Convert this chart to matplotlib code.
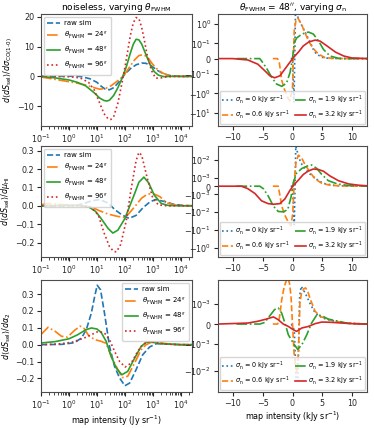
import numpy as np
import matplotlib
matplotlib.use("Agg")
import matplotlib.pyplot as plt
from matplotlib.ticker import NullLocator

# ---------------- data: left column (log10 of map intensity in Jy/sr) ----------------
# top-left: d<dS_sel>/d sigma_CO
tl_raw_lx = [-1.0, -0.5, 0.0, 0.3, 0.5, 0.75, 1.0, 1.15, 1.3, 1.45, 1.6, 1.75, 1.9, 2.05, 2.2, 2.4, 2.6, 2.75, 2.9, 3.05, 3.2, 3.4, 3.6, 3.8, 4.0, 4.5]
tl_raw_y = [0.0, 0.0, 0.05, 0.1, -0.2, -0.8, -2.0, -3.3, -4.3, -4.5, -3.8, -2.3, -0.4, 1.2, 2.6, 3.9, 4.5, 4.4, 3.8, 2.8, 1.8, 0.8, 0.3, 0.1, 0.0, 0.0]
tl_24_lx = [-1.0, -0.5, 0.0, 0.3, 0.6, 0.9, 1.1, 1.3, 1.5, 1.7, 1.9, 2.05, 2.2, 2.35, 2.5, 2.65, 2.8, 3.0, 3.2, 3.4, 3.6, 3.8, 4.0, 4.5]
tl_24_y = [-0.2, -1.0, -1.8, -2.3, -2.9, -3.8, -4.3, -4.1, -3.2, -1.8, -0.3, 1.5, 3.6, 5.6, 7.0, 7.3, 6.6, 4.0, 2.0, 0.9, 0.3, 0.1, 0.0, 0.0]
tl_48_lx = [-1.0, -0.5, 0.0, 0.3, 0.6, 0.9, 1.1, 1.25, 1.35, 1.45, 1.6, 1.75, 1.9, 2.05, 2.2, 2.3, 2.4, 2.5, 2.6, 2.75, 2.9, 3.05, 3.2, 3.4, 3.6, 4.0, 4.5]
tl_48_y = [0.0, -0.5, -1.2, -2.0, -3.2, -5.5, -7.3, -8.1, -8.3, -8.0, -6.4, -3.8, -0.6, 3.2, 8.0, 10.8, 12.5, 12.3, 10.9, 7.4, 4.0, 1.6, 0.4, -0.1, 0.0, 0.0, 0.0]
tl_96_lx = [-1.0, -0.5, 0.0, 0.4, 0.7, 0.9, 1.1, 1.25, 1.4, 1.5, 1.6, 1.75, 1.9, 2.0, 2.1, 2.2, 2.3, 2.4, 2.5, 2.6, 2.7, 2.8, 2.95, 3.1, 3.3, 3.5, 4.0, 4.5]
tl_96_y = [0.0, 0.0, -0.1, -0.5, -2.0, -4.5, -9.0, -12.5, -14.3, -14.5, -13.5, -9.0, -2.0, 3.0, 8.5, 14.0, 18.0, 19.8, 19.5, 16.5, 12.0, 7.0, 2.0, -0.6, -0.5, -0.1, 0.0, 0.0]

# middle-left: d<dS_sel>/d mu_HI
ml_raw_lx = [-1.0, 0.0, 0.3, 0.55, 0.8, 1.1, 1.4, 1.65, 1.9, 2.15, 2.4, 2.65, 2.9, 3.1, 3.4, 3.75, 4.1, 4.5]
ml_raw_y = [0.0, 0.0, 0.004, 0.013, 0.027, 0.034, 0.015, -0.022, -0.05, -0.068, -0.052, -0.01, 0.022, 0.034, 0.024, 0.008, 0.002, 0.0]
ml_24_lx = [-1.0, -0.75, -0.5, -0.25, 0.0, 0.4, 0.8, 1.05, 1.4, 1.7, 1.95, 2.1, 2.35, 2.6, 2.8, 3.0, 3.25, 3.5, 3.8, 4.1, 4.5]
ml_24_y = [0.006, 0.012, 0.01, 0.007, 0.005, 0.002, -0.005, -0.024, -0.045, -0.056, -0.063, -0.05, -0.005, 0.042, 0.063, 0.067, 0.05, 0.016, 0.004, 0.001, 0.0]
ml_48_lx = [-1.0, 0.0, 0.4, 0.7, 0.95, 1.15, 1.4, 1.57, 1.75, 2.0, 2.15, 2.35, 2.5, 2.68, 2.85, 3.05, 3.3, 3.55, 4.0, 4.5]
ml_48_y = [0.0, 0.003, 0.002, -0.005, -0.03, -0.069, -0.123, -0.148, -0.132, -0.069, -0.01, 0.067, 0.128, 0.156, 0.125, 0.058, 0.013, 0.002, 0.0, 0.0]
ml_96_lx = [-1.0, 0.0, 0.5, 0.8, 1.05, 1.25, 1.45, 1.6, 1.7, 1.85, 2.05, 2.2, 2.4, 2.5, 2.6, 2.8, 3.0, 3.2, 3.5, 4.0, 4.5]
ml_96_y = [0.0, 0.0, -0.002, -0.009, -0.05, -0.145, -0.222, -0.248, -0.25, -0.21, -0.08, 0.07, 0.245, 0.29, 0.275, 0.15, 0.04, 0.005, 0.0, 0.0, 0.0]

# bottom-left: d<dS_sel>/d alpha_2
bl_raw_lx = [-1.0, -0.25, 0.2, 0.45, 0.62, 0.8, 0.92, 1.01, 1.13, 1.27, 1.45, 1.63, 1.81, 2.0, 2.17, 2.4, 2.64, 2.88, 3.12, 3.5, 4.0, 4.5]
bl_raw_y = [0.0, 0.002, 0.012, 0.04, 0.089, 0.187, 0.286, 0.352, 0.325, 0.187, -0.01, -0.128, -0.197, -0.243, -0.227, -0.148, -0.059, -0.014, 0.006, 0.004, 0.0, 0.0]
bl_24_lx = [-1.0, -0.75, -0.5, -0.27, -0.05, 0.2, 0.4, 0.55, 0.7, 0.92, 1.15, 1.33, 1.51, 1.69, 1.9, 2.1, 2.35, 2.58, 2.76, 2.94, 3.2, 3.55, 4.0, 4.5]
bl_24_y = [0.06, 0.103, 0.08, 0.05, 0.045, 0.085, 0.11, 0.095, 0.055, 0.03, 0.02, 0.008, -0.069, -0.128, -0.195, -0.187, -0.108, -0.03, 0.0, 0.014, 0.013, 0.005, 0.0, 0.0]
bl_48_lx = [-1.0, -0.5, 0.0, 0.3, 0.6, 0.8, 1.0, 1.15, 1.33, 1.51, 1.69, 1.89, 2.1, 2.35, 2.58, 2.76, 2.94, 3.3, 4.0, 4.5]
bl_48_y = [0.01, 0.018, 0.035, 0.058, 0.088, 0.099, 0.093, 0.073, 0.02, -0.069, -0.138, -0.178, -0.158, -0.079, -0.01, 0.014, 0.016, 0.006, 0.0, 0.0]
bl_96_lx = [-1.0, -0.4, 0.1, 0.55, 0.85, 1.05, 1.27, 1.45, 1.63, 1.81, 2.01, 2.23, 2.46, 2.64, 2.82, 3.06, 3.4, 4.0, 4.5]
bl_96_y = [0.0, 0.004, 0.014, 0.04, 0.063, 0.079, 0.069, 0.03, -0.039, -0.099, -0.132, -0.108, -0.039, 0.0, 0.018, 0.014, 0.004, 0.0, 0.0]

# ---------------- data: right column (map intensity in kJy/sr) ----------------
tr_s0_x = [-0.3, 0.0, 0.25, 0.5, 0.75, 1.0, 1.5, 2.0, 2.5, 3.0, 3.5, 4.0, 5.0, 6.0, 8.0, 10.0, 12.5]
tr_s0_y = [0, 0, -3.0, 4.0, 3.0, 1.8, 0.9, 0.45, 0.22, 0.11, 0.06, 0.03, 0.008, 0.002, 0.0, 0.0, 0.0]
tr_s06_x = [-3.3, -2.5, -2.2, -1.8, -1.3, -0.7, -0.4, 0.0, 0.3, 0.6, 0.9, 1.5, 2.1, 2.7, 3.5, 4.4, 5.5, 7.0, 9.0, 12.5]
tr_s06_y = [0, 0, -0.03, -0.22, -0.7, -1.9, -2.4, -0.5, 0.5, 1.6, 2.0, 0.95, 0.35, 0.13, 0.065, 0.028, 0.006, 0.001, 0, 0]
tr_s19_x = [-9.4, -5.5, -5.2, -4.4, -3.5, -2.7, -1.8, -1.0, -0.4, 0.0, 0.3, 0.7, 1.3, 2.1, 2.7, 3.5, 4.4, 5.2, 6.3, 7.7, 9.0, 12.5]
tr_s19_y = [0, 0, -0.015, -0.06, -0.15, -0.33, -0.44, -0.3, -0.09, 0.0, 0.11, 0.19, 0.26, 0.35, 0.38, 0.3, 0.13, 0.06, 0.017, 0.002, 0.0, 0.0]
tr_s32_x = [-12.5, -10, -7.5, -5.8, -4.65, -3.8, -3.0, -2.1, -1.3, -0.4, 0.15, 1.0, 1.8, 2.7, 3.8, 4.65, 5.8, 7.2, 8.6, 10.0, 12.5]
tr_s32_y = [0, 0, -0.009, -0.037, -0.08, -0.126, -0.16, -0.126, -0.07, -0.022, 0.0065, 0.043, 0.083, 0.117, 0.148, 0.13, 0.083, 0.043, 0.017, 0.004, 0.0]

mr_s0_x = [-0.3, 0.0, 0.3, 0.55, 0.8, 1.0, 1.3, 1.6, 2.1, 2.5, 3.0, 3.8, 4.5, 5.5, 7.0, 9.0, 12.5]
mr_s0_y = [0, 0, -0.05, 0.06, 0.03, 0.016, 0.009, 0.0056, 0.0033, 0.0024, 0.0016, 0.001, 0.0006, 0.0003, 0.0001, 0.00002, 0]
mr_s06_x = [-3.3, -2.4, -2.1, -1.8, -1.3, -0.7, -0.25, 0.05, 0.3, 0.6, 1.0, 1.55, 2.1, 3.0, 3.8, 4.9, 6.3, 8.0, 12.5]
mr_s06_y = [0, 0, -0.0012, -0.0046, -0.0145, -0.036, -0.058, -0.011, 0.0007, 0.008, 0.019, 0.013, 0.0056, 0.002, 0.00088, 0.00036, 0.00012, 0.00003, 0]
mr_s19_x = [-9.4, -5.5, -4.9, -4.1, -3.2, -2.4, -1.55, -0.8, -0.25, 0.14, 0.7, 1.55, 2.67, 3.2, 4.1, 4.9, 6.0, 7.5, 9.4, 12.5]
mr_s19_y = [0, 0, -0.0003, -0.0012, -0.0046, -0.0091, -0.0095, -0.0072, -0.00145, 0.00048, 0.0019, 0.0034, 0.005, 0.0054, 0.0034, 0.0016, 0.00068, 0.00028, 0.00008, 0]
mr_s32_x = [-12.5, -8.6, -7.5, -6.3, -5.2, -4.1, -3.2, -2.1, -1.27, -0.42, 0.14, 1.0, 1.83, 2.67, 3.5, 4.36, 5.2, 6.3, 7.7, 9.4, 11.1, 12.5]
mr_s32_y = [0, 0, -0.0003, -0.0009, -0.0023, -0.0033, -0.0036, -0.0033, -0.0018, -0.0005, 0.00008, 0.00076, 0.0016, 0.0025, 0.0032, 0.003, 0.0024, 0.0013, 0.00068, 0.00028, 0.00012, 0.00005]

br_s0_x = [-0.2, 0.3, 0.6, 0.9, 1.2, 1.45, 2.1, 3.0, 3.8, 5.0, 6.3, 8.3, 10.0, 12.5]
br_s0_y = [0, -0.0003, -0.02, -0.02, 0.002, 0.0047, 0.0027, 0.001, 0.00056, 0.00031, 0.00019, 0.00008, 0.00003, 0]
br_s06_x = [-3.3, -2.5, -2.2, -1.8, -1.4, -1.0, -0.75, -0.5, -0.25, 0.0, 0.25, 0.5, 0.75, 1.0, 1.25, 1.5, 1.9, 2.2, 2.6, 3.0, 3.8, 4.65, 5.8, 7.2, 9.0, 12.5]
br_s06_y = [0, 0, 0.0003, 0.0015, 0.0045, 0.008, 0.0095, 0.006, 0.002, 0.0, -0.002, -0.006, -0.012, -0.002, 0.0012, 0.0025, 0.0038, 0.0041, 0.0028, 0.0015, 0.00064, 0.00039, 0.00025, 0.00014, 0.00005, 0]
br_s19_x = [-9.4, -5.5, -4.65, -3.8, -3.0, -2.4, -1.83, -1.27, -0.7, 0.14, 0.87, 1.55, 2.4, 3.2, 4.1, 4.9, 6.0, 7.7, 9.4, 12.5]
br_s19_y = [0, 0, 0.00008, 0.00042, 0.00073, 0.00081, 0.00056, 0.00005, -0.00054, -0.00097, -0.0016, -0.0011, -0.00054, 0.00005, 0.00047, 0.00042, 0.00025, 0.00014, 0.00003, 0]
br_s32_x = [-12.5, -7.5, -5.8, -4.4, -3.2, -2.4, -1.55, -0.7, 0.14, 0.7, 1.55, 2.67, 3.8, 4.9, 6.3, 8.3, 10.6, 12.5]
br_s32_y = [0, 0.00005, 0.00014, 0.00025, 0.00036, 0.00022, 0.0, -0.00012, -0.00029, -0.00037, -0.0002, -0.00012, 0.00002, 0.0001, 0.00009, 0.00005, 0.00001, 0]

left_labels = ["raw sim", r"$\theta_{\rm FWHM}$ = 24$^{\prime\prime}$",
               r"$\theta_{\rm FWHM}$ = 48$^{\prime\prime}$", r"$\theta_{\rm FWHM}$ = 96$^{\prime\prime}$"]
right_labels = [r"$\sigma_{\rm n}$ = 0 kJy sr$^{-1}$", r"$\sigma_{\rm n}$ = 0.6 kJy sr$^{-1}$",
                r"$\sigma_{\rm n}$ = 1.9 kJy sr$^{-1}$", r"$\sigma_{\rm n}$ = 3.2 kJy sr$^{-1}$"]
left_ylabels = [r"$d\langle dS_{\rm sel}\rangle/d\sigma_{\rm CO(1\text{-}0)}$",
                r"$d\langle dS_{\rm sel}\rangle/d\mu_{\rm HI}$",
                r"$d\langle dS_{\rm sel}\rangle/d\alpha_2$"]

# ---------------- styling ----------------
colors = ["#1f77b4", "#ff7f0e", "#2ca02c", "#d62728"]
left_styles = ["--", "-.", "-", ":"]
right_styles = [":", "--", "-.", "-"]
plt.rcParams.update({"font.size": 5.8, "axes.edgecolor": "0.3", "xtick.color": "0.15",
                     "ytick.color": "0.15", "axes.linewidth": 0.8,
                     "xtick.major.size": 3, "ytick.major.size": 3,
                     "xtick.minor.size": 1.8, "xtick.labelsize": 5.8, "ytick.labelsize": 5.8})

fig = plt.figure(figsize=(3.74, 4.28), dpi=100)
W, H = 374.0, 428.0
rows = [(14, 126), (146, 257), (280, 392)]
lcol = (41, 192)
rcol = (218, 367)

def mkax(col, row):
    return fig.add_axes([col[0] / W, 1 - row[1] / H, (col[1] - col[0]) / W, (row[1] - row[0]) / H])

left_data = [
    [(tl_raw_lx, tl_raw_y), (tl_24_lx, tl_24_y), (tl_48_lx, tl_48_y), (tl_96_lx, tl_96_y)],
    [(ml_raw_lx, ml_raw_y), (ml_24_lx, ml_24_y), (ml_48_lx, ml_48_y), (ml_96_lx, ml_96_y)],
    [(bl_raw_lx, bl_raw_y), (bl_24_lx, bl_24_y), (bl_48_lx, bl_48_y), (bl_96_lx, bl_96_y)],
]
left_ylims = [(-16.7, 21.0), (-0.278, 0.325), (-0.28, 0.383)]
left_yticks = [[-10, 0, 10, 20], [-0.2, -0.1, 0.0, 0.1, 0.2, 0.3], [-0.2, -0.1, 0.0, 0.1, 0.2, 0.3]]
left_legloc = ["upper left", "upper left", "upper right"]

right_data = [
    [(tr_s0_x, tr_s0_y), (tr_s06_x, tr_s06_y), (tr_s19_x, tr_s19_y), (tr_s32_x, tr_s32_y)],
    [(mr_s0_x, mr_s0_y), (mr_s06_x, mr_s06_y), (mr_s19_x, mr_s19_y), (mr_s32_x, mr_s32_y)],
    [(br_s0_x, br_s0_y), (br_s06_x, br_s06_y), (br_s19_x, br_s19_y), (br_s32_x, br_s32_y)],
]
right_symlog = [(0.1, 0.70), (1e-3, 0.41), (1e-3, 0.67)]
right_ylims = [(-47, 3.2), (-3.2, 0.062), (-0.064, 0.0081)]
right_yticks = [[-10, -1, -0.1, 0, 0.1, 1], [-1, -0.1, -0.01, -0.001, 0, 0.001, 0.01], [-0.01, -0.001, 0, 0.001]]

for r in range(3):
    ax = mkax(lcol, rows[r])
    for k, (lx, yy) in enumerate(left_data[r]):
        ax.plot(10 ** np.asarray(lx), yy, ls=left_styles[k], color=colors[k], lw=1.2, label=left_labels[k])
    ax.set_xscale("log")
    ax.set_xlim(0.1, 10 ** 4.4)
    ax.set_ylim(*left_ylims[r])
    ax.set_yticks(left_yticks[r])
    ax.set_ylabel(left_ylabels[r], fontsize=5.8, labelpad=2)
    ax.tick_params(pad=2)
    ax.legend(loc=left_legloc[r], fontsize=5.0, handlelength=1.8, borderpad=0.5,
              labelspacing=0.55, handletextpad=0.6, borderaxespad=0.4)
    if r == 0:
        ax.set_title(r"noiseless, varying $\theta_{\rm FWHM}$", fontsize=6.5, pad=3)
    if r == 2:
        ax.set_xlabel(r"map intensity (Jy sr$^{-1}$)", fontsize=5.8, labelpad=1.5)

    ax2 = mkax(rcol, rows[r])
    for k, (xx, yy) in enumerate(right_data[r]):
        ax2.plot(xx, yy, ls=right_styles[k], color=colors[k], lw=1.2, label=right_labels[k])
    lt, ls_ = right_symlog[r]
    ax2.set_yscale("symlog", linthresh=lt, linscale=ls_)
    ax2.set_xlim(-12.5, 12.5)
    ax2.set_ylim(*right_ylims[r])
    ax2.set_yticks(right_yticks[r])
    ax2.yaxis.set_minor_locator(NullLocator())
    ax2.set_xticks([-10, -5, 0, 5, 10])
    ax2.tick_params(pad=2)
    ax2.legend(loc="lower center", ncol=2, fontsize=4.7, handlelength=1.6, columnspacing=0.8,
               handletextpad=0.3, borderpad=0.4, labelspacing=0.45, borderaxespad=0.3)
    if r == 0:
        ax2.set_title(r"$\theta_{\rm FWHM}$ = 48$^{\prime\prime}$, varying $\sigma_{\rm n}$", fontsize=6.5, pad=3)
    if r == 2:
        ax2.set_xlabel(r"map intensity (kJy sr$^{-1}$)", fontsize=5.8, labelpad=1.5)

fig.savefig("out.png", dpi=100)
